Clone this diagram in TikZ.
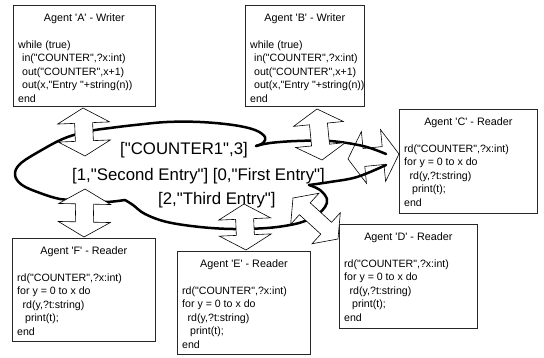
\documentclass[tikz,border=0pt]{standalone}
\usepackage{fontspec}
\newfontfamily\af{Liberation Sans}
\usetikzlibrary{calc}
\newcommand\dblarrow[5]{%
  \draw[blockarrow] (#1)
   -- ($(#1)!#3pt!(#2)!#4pt!90:(#2)$)
   -- ($(#1)!#3pt!(#2)!#5pt!90:(#2)$)
   -- ($(#2)!#3pt!(#1)!#5pt!-90:(#1)$)
   -- ($(#2)!#3pt!(#1)!#4pt!-90:(#1)$)
   -- (#2)
   -- ($(#2)!#3pt!(#1)!#4pt!90:(#1)$)
   -- ($(#2)!#3pt!(#1)!#5pt!90:(#1)$)
   -- ($(#1)!#3pt!(#2)!#5pt!-90:(#2)$)
   -- ($(#1)!#3pt!(#2)!#4pt!-90:(#2)$)
   -- cycle;}
\begin{document}
\begin{tikzpicture}[x=1pt,y=-1pt,
  agent/.style={draw=black!85, line width=0.7pt, fill=white, anchor=north west, inner sep=0pt},
  code/.style={anchor=north west, inner sep=0pt, align=left, font=\af\fontsize{10.6}{13.5}\selectfont},
  atitle/.style={anchor=base, inner sep=0pt, font=\af\fontsize{10.8}{13.5}\selectfont},
  big/.style={anchor=base west, inner sep=0pt, font=\af\fontsize{16.8}{20}\selectfont},
  cloudline/.style={line width=2.5pt, line cap=round, line join=round},
  blockarrow/.style={draw=black, line width=0.6pt, fill=white, line join=miter}
]
\useasboundingbox (0,0) rectangle (544,358);

% agent boxes
\node[agent, minimum width=142pt, minimum height=101pt] (A) at (13,5) {};
\node[agent, minimum width=119pt, minimum height=101pt] (B) at (245,5) {};
\node[agent, minimum width=138pt, minimum height=104pt] (C) at (399,109) {};
\node[agent, minimum width=138pt, minimum height=104pt] (D) at (339,224) {};
\node[agent, minimum width=133pt, minimum height=103pt] (E) at (177,251) {};
\node[agent, minimum width=143pt, minimum height=103pt] (F) at (12,238) {};

\foreach \b/\t in {A/Agent 'A' - Writer, B/Agent 'B' - Writer}{
  \node[atitle] (\b t) at ($(\b.north)+(0,17)$) {\t};
  \node[code] (\b c) at ($(\b.north west)+(5,35.3)$) {while (true)\\\hspace*{4pt}in("COUNTER",?x:int)\\\hspace*{4pt}out("COUNTER",x+1)\\\hspace*{4pt}out(x,"Entry "+string(n))\\end};
}
\foreach \b/\t in {C/Agent 'C' - Reader, D/Agent 'D' - Reader, E/Agent 'E' - Reader, F/Agent 'F' - Reader}{
  \node[atitle] (\b t) at ($(\b.north)+(0,17)$) {\t};
  \node[code] (\b c) at ($(\b.north west)+(5,35.3)$) {rd("COUNTER",?x:int)\\for y = 0 to x do\\\hspace*{5.5pt}rd(y,?t:string)\\\hspace*{8pt}print(t);\\end};
}

% arrow end points
\coordinate (a1) at (83,108); \coordinate (a2) at (85,156);
\coordinate (b1) at (317,109); \coordinate (b2) at (322,160);
\coordinate (c1) at (348,159); \coordinate (c2) at (399,154);
\coordinate (d1) at (293,198); \coordinate (d2) at (338,239);
\coordinate (e1) at (244,204); \coordinate (e2) at (246,250);
\coordinate (f1) at (85,189); \coordinate (f2) at (84,237);

\dblarrow{c1}{c2}{16}{26}{9}

% cloud
\draw[cloudline] plot[smooth, tension=0.6] coordinates {(125,200) (105,202) (80,200) (60,199) (40,193) (22,185) (15,175) (20,164) (40,151) (65,138) (90,131) (110,128) (135,125) (167,122) (200,122) (233,125) (255,130) (265,137) (263,143) (256,146)};
\draw[cloudline] plot[smooth, tension=0.6] coordinates {(256,146) (270,143) (297,141) (330,141) (363,146) (386,154)};
\draw[cloudline] plot[smooth, tension=0.6] coordinates {(125,200) (133,205) (145,214) (167,222) (200,227) (233,229) (267,228) (290,225) (305,221) (318,214) (325,207) (327,199) (320,190) (309,185)};
\draw[cloudline] plot[smooth, tension=0.6] coordinates {(309,185) (330,182) (357,177) (386,165)};

\node[big] (t1) at (120,155) {["COUNTER1",3]};
\node[big] (t2) at (72,181) {[1,"Second Entry"] [0,"First Entry"]};
\node[big] (t3) at (158,205) {[2,"Third Entry"]};

\dblarrow{a1}{a2}{15}{26}{9}
\dblarrow{b1}{b2}{15}{25}{9}
\dblarrow{d1}{d2}{16}{21}{8}
\dblarrow{e1}{e2}{15}{26}{9}
\dblarrow{f1}{f2}{15}{26}{9}
\end{tikzpicture}
\end{document}
